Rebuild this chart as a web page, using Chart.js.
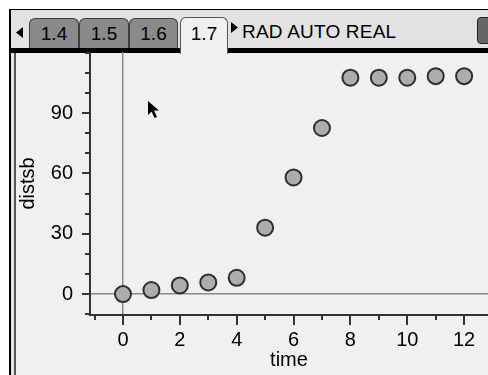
<!DOCTYPE html>
<html>
<head>
<meta charset="utf-8">
<script src="https://cdn.jsdelivr.net/npm/chart.js"></script>
<style>
  html, body { margin: 0; padding: 0; background: #fff; width: 488px; height: 375px; overflow: hidden; }
  body { position: relative; font-family: "Liberation Sans", Arial, sans-serif; }
  .abs { position: absolute; }
  #frameTop { left: 9px; top: 9px; width: 479px; height: 1px; background: #000; }
  #frameLeft { left: 9px; top: 9px; width: 2px; height: 366px; background: #000; }
  #tabbar { left: 11px; top: 10px; width: 477px; height: 38px; background: #e2e2e2; }
  #blackbar { left: 11px; top: 48px; width: 477px; height: 5px; background: #000; }
  #gap { left: 11px; top: 53px; width: 3px; height: 322px; background: #e6e6e6; }
  #innerLeft { left: 14px; top: 53px; width: 2px; height: 322px; background: #555; }
  #plotbg { left: 16px; top: 53px; width: 472px; height: 322px; background: #f0f0f0; }
  .tab { top: 18px; height: 29px; background: #8a8a8a; border: 1px solid #3c3c3c; border-bottom: none;
         border-radius: 6px 6px 0 0; font-size: 19px; color: #000; text-align: center; line-height: 30px; box-sizing: content-box; }
  #active { left: 180px; top: 17px; width: 46px; height: 36px; background: #f0f0f0; border: 1px solid #555;
            border-bottom: none; border-radius: 6px 6px 0 0; font-size: 19px; text-align: center; line-height: 32px; }
  #mode { left: 242px; top: 21px; font-size: 19px; color: #000; letter-spacing: 0.2px; }
  #battery { left: 477px; top: 17px; width: 16px; height: 25px; background: #666; border: 1px solid #222; border-radius: 4px; }
  #chartWrap { left: 16px; top: 52px; width: 472px; height: 323px; }
  #cursor { left: 147px; top: 100px; }
</style>
</head>
<body>
<div class="abs" id="frameTop"></div>
<div class="abs" id="tabbar"></div>
<div class="abs" id="frameLeft"></div>
<svg class="abs" style="left:16px;top:27px" width="8" height="12"><polygon points="7,0 7,11 0,5.5" fill="#000"/></svg>
<div class="abs tab" style="left:29px;width:48px">1.4</div>
<div class="abs tab" style="left:79px;width:48px">1.5</div>
<div class="abs tab" style="left:129px;width:47px">1.6</div>
<div class="abs" id="blackbar"></div>
<div class="abs" id="gap"></div>
<div class="abs" id="innerLeft"></div>
<div class="abs" id="plotbg"></div>
<div class="abs" id="active">1.7</div>
<svg class="abs" style="left:231px;top:22px" width="8" height="12"><polygon points="0,0 0,11 7,5.5" fill="#000"/></svg>
<div class="abs" id="mode">RAD AUTO REAL</div>
<div class="abs" id="battery"></div>
<div class="abs" id="chartWrap"><canvas id="nspireChart" width="472" height="323"></canvas></div>
<svg class="abs" id="cursor" width="14" height="20"><polygon points="1,1 1,15 4.5,11.5 7.5,18 10,17 7,10.5 12,10.5" fill="#000"/></svg>

<script>
const times = [0, 1, 2, 3, 4, 5, 6, 7, 8, 9, 10, 11, 12];
const distsb = [0, 2, 4.3, 5.8, 8.1, 33, 58, 82.6, 107.6, 107.6, 107.6, 108.4, 108.4];

// axis ticks
const xTickValues = [-1, 0, 1, 2, 3, 4, 5, 6, 7, 8, 9, 10, 11, 12];
const xTickLabels = [0, 2, 4, 6, 8, 10, 12];
const yTickValues = [-10, 0, 10, 20, 30, 40, 50, 60, 70, 80, 90, 100, 110, 120];
const yTickLabels = [0, 30, 60, 90];

const axisColor = '#333333';
const zeroLineColor = '#8a8a8a';
const labelFont = { family: '"Liberation Sans", Arial, sans-serif', size: 20 };

// tick marks: long ones where there's a label, short ones elsewhere
const tickMarks = {
    id: 'tickMarks',
    afterDraw(chart) {
        const ctx = chart.ctx;
        const xs = chart.scales.x, ys = chart.scales.y;
        const area = chart.chartArea;
        ctx.save();
        ctx.strokeStyle = axisColor;
        ctx.lineWidth = 2;
        xTickValues.forEach(v => {
            const px = Math.round(xs.getPixelForValue(v));
            const len = xTickLabels.includes(v) ? 10 : 5;
            ctx.beginPath();
            ctx.moveTo(px, area.bottom);
            ctx.lineTo(px, area.bottom + len);
            ctx.stroke();
        });
        yTickValues.forEach(v => {
            const py = Math.round(ys.getPixelForValue(v));
            const len = yTickLabels.includes(v) ? 8 : 5;
            ctx.beginPath();
            ctx.moveTo(area.left, py);
            ctx.lineTo(area.left - len, py);
            ctx.stroke();
        });
        ctx.restore();
    }
};

function zeroGrid(c) {
    return c.tick && c.tick.value === 0 ? zeroLineColor : 'rgba(0,0,0,0)';
}

// no extra room for the end labels, the plot fills the screen
function noPadding(s) {
    s.paddingTop = 0;
    s.paddingBottom = 0;
    s.paddingLeft = 0;
    s.paddingRight = 0;
}

const ctx = document.getElementById('nspireChart').getContext('2d');
new Chart(ctx, {
    type: 'scatter',
    data: {
        datasets: [{
            label: 'distsb',
            data: times.map((t, i) => ({ x: t, y: distsb[i] })),
            pointRadius: 8,
            pointHoverRadius: 8,
            backgroundColor: '#adadad',
            borderColor: '#2e2e2e',
            borderWidth: 2
        }]
    },
    options: {
        responsive: false,
        animation: false,
        devicePixelRatio: 1,
        layout: { padding: 0, autoPadding: false },
        plugins: {
            legend: { display: false },
            tooltip: { enabled: false }
        },
        scales: {
            x: {
                type: 'linear',
                min: -1.16,
                max: 12.84,
                afterBuildTicks: s => { s.ticks = xTickValues.map(v => ({ value: v })); },
                afterFit: s => { s.height = 60; noPadding(s); },
                grid: { color: zeroGrid, lineWidth: 1.5, drawTicks: false },
                border: { color: axisColor, width: 2 },
                ticks: {
                    autoSkip: false,
                    maxRotation: 0,
                    padding: 13,
                    color: '#000',
                    font: labelFont,
                    callback: v => xTickLabels.includes(v) ? String(v) : ''
                },
                title: { display: true, text: 'time', color: '#000', font: labelFont, padding: { top: 0, bottom: 3 } }
            },
            y: {
                type: 'linear',
                min: -10.4,
                max: 120.4,
                afterBuildTicks: s => { s.ticks = yTickValues.map(v => ({ value: v })); },
                afterFit: s => { s.width = 74; noPadding(s); },
                grid: { color: zeroGrid, lineWidth: 1.5, drawTicks: false },
                border: { color: axisColor, width: 2 },
                ticks: {
                    autoSkip: false,
                    padding: 17,
                    color: '#000',
                    font: labelFont,
                    callback: v => yTickLabels.includes(v) ? String(v) : ''
                },
                title: { display: true, text: 'distsb', color: '#000', font: labelFont, padding: { top: 0, bottom: 0 } }
            }
        }
    },
    plugins: [tickMarks]
});
</script>
</body>
</html>
